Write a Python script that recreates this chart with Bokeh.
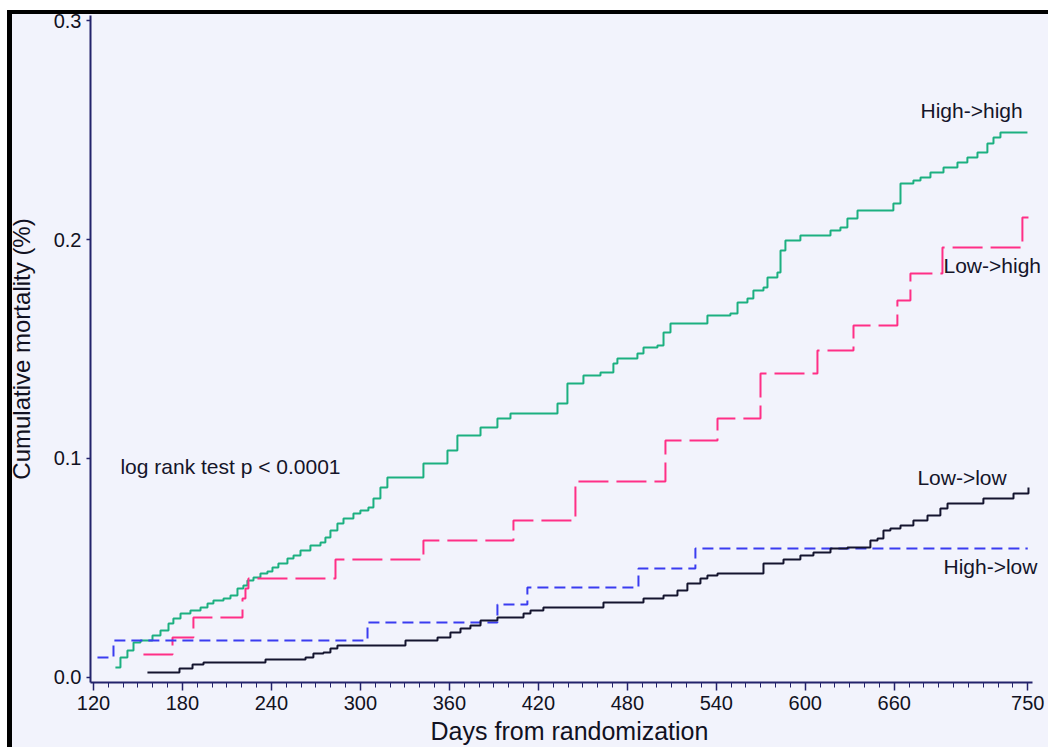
from bokeh.plotting import figure
from bokeh.models import FixedTicker, PrintfTickFormatter, Range1d, Label
from bokeh.embed import file_html
from bokeh.resources import INLINE

# High->high
hh_days = [134.8, 138.2, 142.9, 147.0, 151.7, 159.8, 165.2, 170.6, 173.9, 178.7, 185.4, 192.2, 196.9, 200.9,
           207.7, 212.4, 217.1, 221.1, 223.8, 227.9, 232.6, 237.3, 240.7, 244.7, 250.8, 254.9, 259.6, 266.3,
           273.1, 276.4, 279.8, 284.5, 288.6, 295.3, 300.0, 305.4, 308.8, 313.5, 318.2, 342.5, 358.7, 365.4,
           381.0, 392.4, 401.2, 432.9, 439.6, 450.4, 461.9, 470.6, 473.3, 486.8, 490.9, 500.3, 504.4, 509.1,
           534.0, 549.5, 554.3, 561.0, 565.0, 571.8, 574.5, 581.2, 583.3, 586.6, 596.7, 617.0, 623.7, 628.4,
           635.2, 659.4, 664.2, 672.9, 677.7, 684.4, 693.2, 702.6, 709.3, 716.1, 722.8, 726.9, 731.6, 749.8]
hh_vals = [0.0046, 0.0091, 0.0123, 0.0160, 0.0169, 0.0192, 0.0215, 0.0247, 0.0269, 0.0292, 0.0306, 0.0320,
           0.0338, 0.0352, 0.0361, 0.0374, 0.0406, 0.0420, 0.0443, 0.0457, 0.0475, 0.0484, 0.0502, 0.0521,
           0.0543, 0.0557, 0.0580, 0.0603, 0.0616, 0.0639, 0.0671, 0.0703, 0.0726, 0.0749, 0.0763, 0.0776,
           0.0817, 0.0868, 0.0913, 0.0977, 0.1037, 0.1105, 0.1142, 0.1183, 0.1205, 0.1251, 0.1342, 0.1379,
           0.1393, 0.1434, 0.1457, 0.1479, 0.1507, 0.1516, 0.1575, 0.1616, 0.1653, 0.1662, 0.1712, 0.1731,
           0.1767, 0.1781, 0.1826, 0.1849, 0.1950, 0.1995, 0.2018, 0.2041, 0.2055, 0.2096, 0.2132, 0.2164,
           0.2256, 0.2269, 0.2283, 0.2306, 0.2329, 0.2352, 0.2374, 0.2397, 0.2438, 0.2466, 0.2489, 0.2489]

# Low->high
lh_days = [153.7, 173.3, 187.4, 220.5, 222.5, 224.5, 283.2, 342.5, 403.2, 445.0, 505.7, 540.8, 569.8,
           608.2, 632.5, 662.1, 670.9, 692.5, 746.4, 750.5]
lh_vals = [0.0105, 0.0183, 0.0274, 0.0361, 0.0406, 0.0452, 0.0539, 0.0626, 0.0717, 0.0895, 0.1082, 0.1183,
           0.1388, 0.1493, 0.1607, 0.1721, 0.1845, 0.1963, 0.2100, 0.2100]

# High->low
hl_days = [122.7, 133.5, 304.8, 392.4, 412.6, 487.5, 525.9, 750.0]
hl_vals = [0.0091, 0.0169, 0.0251, 0.0333, 0.0411, 0.0498, 0.0589, 0.0589]

# Low->low
ll_days = [156.4, 178.0, 186.8, 194.2, 236.0, 263.0, 268.3, 275.1, 279.8, 284.5, 330.4, 352.0, 360.7,
           367.5, 374.2, 381.0, 392.4, 410.0, 414.7, 423.4, 463.9, 490.9, 504.4, 513.8, 520.5, 529.3,
           534.0, 540.8, 571.8, 585.3, 596.7, 605.5, 617.0, 628.4, 643.9, 648.7, 652.7, 657.4, 664.2,
           672.9, 682.4, 691.1, 695.9, 720.1, 740.4, 750.5]
ll_vals = [0.0023, 0.0041, 0.0059, 0.0068, 0.0082, 0.0091, 0.0110, 0.0114, 0.0132, 0.0146, 0.0169, 0.0183,
           0.0205, 0.0224, 0.0237, 0.0260, 0.0274, 0.0292, 0.0306, 0.0320, 0.0342, 0.0361, 0.0374, 0.0397,
           0.0429, 0.0452, 0.0466, 0.0475, 0.0521, 0.0539, 0.0557, 0.0571, 0.0589, 0.0594, 0.0626, 0.0635,
           0.0671, 0.0680, 0.0694, 0.0717, 0.0740, 0.0772, 0.0795, 0.0817, 0.0840, 0.0868]

x_ticks = [120, 180, 240, 300, 360, 420, 480, 540, 600, 660, 750]
x_minor = list(range(130, 750, 10))
y_ticks = [0.0, 0.1, 0.2, 0.3]

label_texts = ["High->high", "Low->high", "Low->low", "High->low", "log rank test p < 0.0001"]
label_x = [677.7, 693.2, 675.6, 693.2, 138.2]
label_y = [0.259, 0.188, 0.0913, 0.0507, 0.0963]

FONT = "Liberation Sans"
BG = "#F2F3FC"
AXIS = "#23236b"

p = figure(width=1048, height=747, output_backend="svg", toolbar_location=None,
           x_range=Range1d(118.0, 764.0), y_range=Range1d(-0.0023, 0.3023),
           background_fill_color=BG, border_fill_color=BG, border_fill_alpha=0.0,
           min_border_left=90, min_border_right=0, min_border_top=15, min_border_bottom=65)
p.styles = {
    "background-image": (
        "linear-gradient(to bottom, white 0px, white 10px, transparent 10px), "
        "linear-gradient(to right, white 0px, white 7px, black 7px, black 12px, transparent 12px), "
        "linear-gradient(to bottom, white 0px, white 10px, black 10px, black 14px, #F2F3FC 14px)"
    )
}
p.outline_line_color = None
p.xgrid.visible = False
p.ygrid.visible = False

p.step(hh_days, hh_vals, mode="after", line_color="#1cb080", line_width=2)
p.step(lh_days, lh_vals, mode="after", line_color="#ff2f86", line_width=2, line_dash="30 8")
p.step(hl_days, hl_vals, mode="after", line_color="#3a3cf0", line_width=2, line_dash="11 6")
p.step(ll_days, ll_vals, mode="after", line_color="#14142e", line_width=2)

for t, lx, ly in zip(label_texts, label_x, label_y):
    p.add_layout(Label(x=lx, y=ly, text=t, text_font=FONT, text_font_size="21px",
                       text_baseline="middle", text_align="left", text_color="#15152a"))

xa = p.xaxis[0]
xa.ticker = FixedTicker(ticks=x_ticks, minor_ticks=x_minor)
xa.bounds = (118.0, 753.2)
xa.axis_label = "Days from randomization"
ya = p.yaxis[0]
ya.ticker = FixedTicker(ticks=y_ticks, minor_ticks=[])
ya.formatter = PrintfTickFormatter(format="%.1f")
ya.axis_label = "Cumulative mortality (%)"

for ax in (xa, ya):
    ax.axis_line_color = AXIS
    ax.axis_line_width = 2
    ax.major_tick_line_color = AXIS
    ax.minor_tick_line_color = AXIS
    ax.major_tick_line_width = 1.5
    ax.major_label_text_font = FONT
    ax.major_label_text_font_size = "20px"
    ax.major_label_text_color = "#111122"
    ax.axis_label_text_font = FONT
    ax.axis_label_text_font_style = "normal"
    ax.axis_label_text_color = "#111122"
    ax.major_tick_in = 0

xa.axis_label_text_font_size = "25px"
ya.axis_label_text_font_size = "24px"
xa.major_tick_out = 8
xa.minor_tick_out = 5
xa.minor_tick_in = 0
xa.major_label_standoff = 5
xa.axis_label_standoff = 4
ya.major_tick_out = 4
ya.minor_tick_out = 0
ya.major_label_standoff = 5
ya.axis_label_standoff = 16

open("out.html", "w").write(file_html(p, INLINE))
